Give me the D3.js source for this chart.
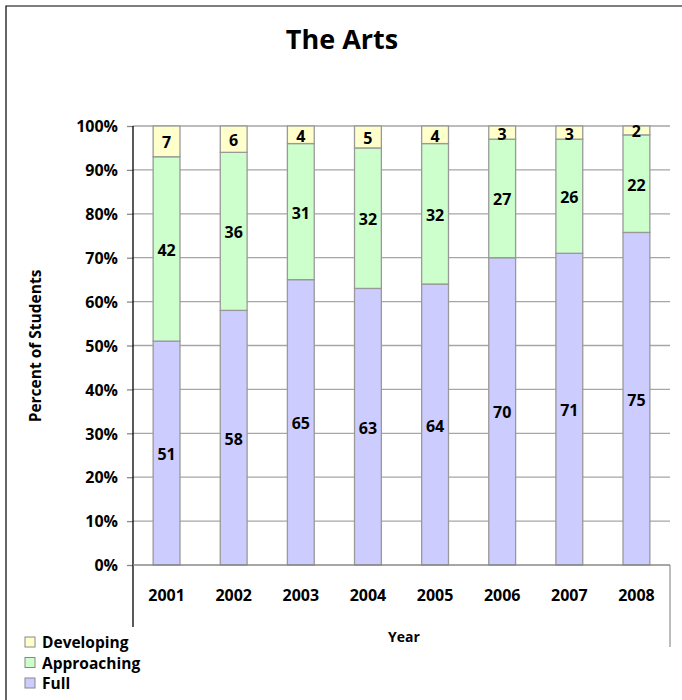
<!DOCTYPE html>
<meta charset="utf-8">
<script src="https://d3js.org/d3.v7.min.js"></script>
<style>
  body { margin: 0; background: #fff; }
  text { font-family: "Open Sans", sans-serif; font-weight: bold; fill: #000; }
</style>
<div id="my_dataviz"></div>
<script>

// data
var years = ["2001", "2002", "2003", "2004", "2005", "2006", "2007", "2008"];
var full        = [51, 58, 65, 63, 64, 70, 71, 75];
var approaching = [42, 36, 31, 32, 32, 27, 26, 22];
var developing  = [7, 6, 4, 5, 4, 3, 3, 2];
var seriesNames = ["Full", "Approaching", "Developing"];
var seriesColors = ["#ccccff", "#ccffcc", "#ffffcc"];
var yTicks = [0, 0.1, 0.2, 0.3, 0.4, 0.5, 0.6, 0.7, 0.8, 0.9, 1];

var W = 682, H = 700;
// plot area edges (note: "top" is reserved on window, so use an object)
var plot = {left: 133, right: 670, top: 126, bottom: 565};

var svg = d3.select("#my_dataviz").append("svg")
    .attr("width", W).attr("height", H);

// outer border of the chart
svg.append("path")
    .attr("d", "M6," + H + "V6H" + W)
    .attr("fill", "none").attr("stroke", "#000").attr("stroke-width", 1.2);

// title
svg.append("text")
    .attr("x", 342).attr("y", 49)
    .attr("text-anchor", "middle")
    .style("font-size", "27px")
    .text("The Arts");

var x = d3.scaleBand().domain(years).range([plot.left, plot.right]).paddingInner(0.6).paddingOuter(0.3);
var y = d3.scaleLinear().domain([0, 1]).range([plot.bottom, plot.top]);

// build stacked rows (Excel's 100% stacking normalises each column)
var rows = years.map(function(yr, i) {
  return { year: yr, Full: full[i], Approaching: approaching[i], Developing: developing[i] };
});
var stack = d3.stack().keys(seriesNames).offset(d3.stackOffsetExpand);
var layers = stack(rows);

// gridlines
svg.append("g").selectAll("line")
  .data(yTicks.slice(1))
  .join("line")
    .attr("x1", plot.left).attr("x2", plot.right)
    .attr("y1", function(d) { return y(d); })
    .attr("y2", function(d) { return y(d); })
    .attr("stroke", "#a6a6a6").attr("stroke-width", 1.3);

// y axis
var yAxis = svg.append("g")
    .attr("transform", "translate(" + plot.left + ",0)")
    .call(d3.axisLeft(y).tickValues(yTicks).tickFormat(d3.format(".0%")).tickSize(6).tickPadding(9));
yAxis.select(".domain").remove();
yAxis.selectAll(".tick line").attr("stroke", "#888").attr("stroke-width", 1.3);
yAxis.selectAll(".tick text")
    .style("font-size", "16px")
    .style("font-family", "'Open Sans', sans-serif")
    .attr("dy", "0.36em");

// vertical axis line, runs down past the category labels
svg.append("line")
    .attr("x1", plot.left).attr("x2", plot.left).attr("y1", plot.top).attr("y2", 627)
    .attr("stroke", "#000").attr("stroke-width", 1.3);
// right edge of plot box below the baseline
svg.append("line")
    .attr("x1", plot.right).attr("x2", plot.right).attr("y1", plot.bottom).attr("y2", 647)
    .attr("stroke", "#999").attr("stroke-width", 1.3);

// bars
var g = svg.append("g");
layers.forEach(function(layer, li) {
  g.append("g").selectAll("rect")
    .data(layer)
    .join("rect")
      .attr("x", function(d) { return x(d.data.year); })
      .attr("width", x.bandwidth())
      .attr("y", function(d) { return y(d[1]); })
      .attr("height", function(d) { return y(d[0]) - y(d[1]); })
      .attr("fill", seriesColors[li])
      .attr("stroke", "#999").attr("stroke-width", 1.3);
  g.append("g").selectAll("text")
    .data(layer)
    .join("text")
      .attr("x", function(d) { return x(d.data.year) + x.bandwidth() / 2; })
      .attr("y", function(d) { return (y(d[0]) + y(d[1])) / 2 + 7; })
      .attr("text-anchor", "middle")
      .style("font-size", "16px")
      .text(function(d) { return d.data[layer.key]; });
});

// baseline
svg.append("line")
    .attr("x1", plot.left).attr("x2", plot.right).attr("y1", plot.bottom).attr("y2", plot.bottom)
    .attr("stroke", "#888").attr("stroke-width", 1.3);

// year labels
svg.append("g").selectAll("text")
  .data(years)
  .join("text")
    .attr("x", function(d) { return x(d) + x.bandwidth() / 2; })
    .attr("y", 601)
    .attr("text-anchor", "middle")
    .style("font-size", "16px")
    .text(function(d) { return d; });

// axis titles
svg.append("text")
    .attr("x", 404).attr("y", 642)
    .attr("text-anchor", "middle")
    .style("font-size", "14px")
    .text("Year");
svg.append("text")
    .attr("transform", "translate(41,346) rotate(-90)")
    .attr("text-anchor", "middle")
    .style("font-size", "15.5px")
    .text("Percent of Students");

// legend
var legendOrder = ["Developing", "Approaching", "Full"];
var legend = svg.append("g").selectAll("g")
  .data(legendOrder)
  .join("g")
    .attr("transform", function(d, i) { return "translate(25," + (637 + i * 20.5) + ")"; });
legend.append("rect")
    .attr("width", 10).attr("height", 10)
    .attr("fill", function(d) { return seriesColors[seriesNames.indexOf(d)]; })
    .attr("stroke", "#888");
legend.append("text")
    .attr("x", 17).attr("y", 11)
    .style("font-size", "15.5px")
    .text(function(d) { return d; });

</script>
